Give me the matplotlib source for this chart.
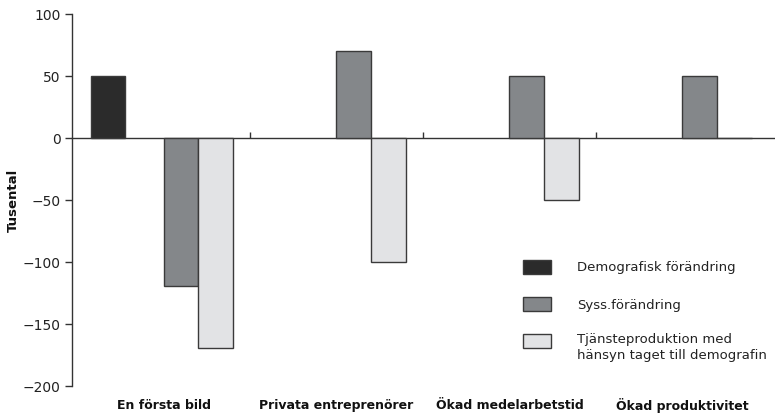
import matplotlib
matplotlib.use("Agg")
import matplotlib.pyplot as plt
import matplotlib.transforms as mtransforms
from matplotlib.patches import Rectangle
import numpy as np

categories = ["En första bild", "Privata entreprenörer", "Ökad medelarbetstid", "Ökad produktivitet"]
demografisk = [50, np.nan, np.nan, np.nan]
syss = [-120, 70, 50, 50]
tjanst = [-170, -100, -50, 0]
series_labels = ["Demografisk förändring", "Syss.förändring",
                 "Tjänsteproduktion med\nhänsyn taget till demografin"]
yticks = [100, 50, 0, -50, -100, -150, -200]

colors = ["#2b2b2b", "#84878a", "#e2e3e5"]
edge = "#3a3a3a"

plt.rcParams['font.family'] = ['DejaVu Sans']

fig = plt.figure(figsize=(7.75, 4.14), dpi=100)
ax = fig.add_axes([72/775, 1-386.7/414, 1-72/775, (386.7-14.5)/414])

x = np.arange(len(categories))
w = 0.2
ax.bar(x - 0.32, demografisk, w, color=colors[0], edgecolor=edge, linewidth=1.0, zorder=3)
ax.bar(x + 0.1, syss, w, color=colors[1], edgecolor=edge, linewidth=1.0, zorder=3)
ax.bar(x + 0.3, tjanst, w, color=colors[2], edgecolor=edge, linewidth=1.0, zorder=3)

ax.set_xlim(-0.529, 3.535)
ax.set_ylim(-200, 100)
ax.set_yticks(yticks)
ax.tick_params(axis='y', length=5, width=1, colors="#333333", labelsize=10,
               labelcolor="#222222", pad=3)

for s in ['top', 'right']:
    ax.spines[s].set_visible(False)
ax.spines['left'].set_color("#333333")
ax.spines['left'].set_linewidth(1)
ax.spines['bottom'].set_position(('data', 0))
ax.spines['bottom'].set_color("#333333")
ax.spines['bottom'].set_linewidth(1)
ax.set_xticks([0.5, 1.5, 2.5])
ax.set_xticklabels([])
ax.tick_params(axis='x', direction='in', length=4, width=1, colors="#333333")

trans = mtransforms.blended_transform_factory(ax.transData, ax.transAxes)
for i, c in enumerate(categories):
    ax.text(i, -0.05, c, transform=trans, ha='center', va='center',
            fontsize=9, fontweight='bold', color="#111111")

ax.set_ylabel("Tusental", fontsize=9.5, fontweight='bold', color="#111111")
ax.yaxis.set_label_coords(-(72-20)/703, 0.5)

# legend (manual)
ys = [268, 305, 342]
for col, lab, yy in zip(colors, series_labels, ys):
    fig.patches.append(Rectangle((523/775, 1-(yy+7)/414), 28/775, 14/414,
                                 transform=fig.transFigure, facecolor=col,
                                 edgecolor=edge, linewidth=1.0))
    if '\n' in lab:
        fig.text(577/775, 1-(yy-9)/414, lab, ha='left', va='top',
                 fontsize=9.5, color="#222222", linespacing=1.35)
    else:
        fig.text(577/775, 1-yy/414, lab, ha='left', va='center',
                 fontsize=9.5, color="#222222")

fig.savefig("out.png", dpi=100)
